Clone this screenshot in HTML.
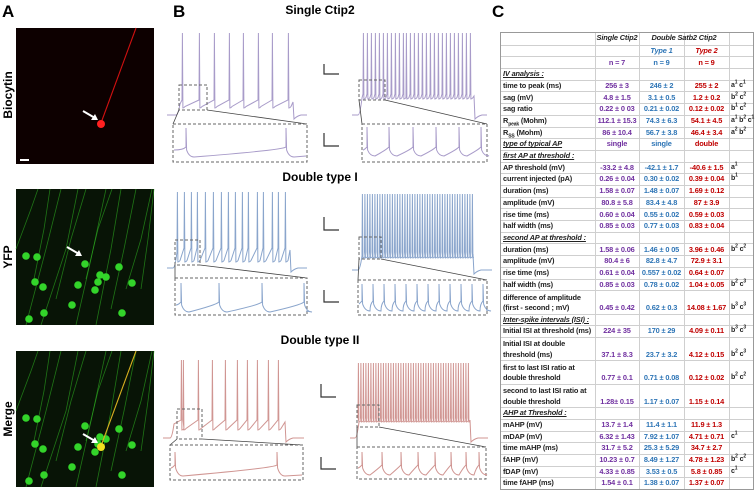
<!DOCTYPE html>
<html><head><meta charset="utf-8">
<style>
body{margin:0;width:756px;height:492px;background:#fff;position:relative;overflow:hidden;font-family:"Liberation Sans",sans-serif}
.pl{position:absolute;font-weight:bold;font-size:17px}
.ttl{position:absolute;font-weight:bold;font-size:12px;text-align:center;width:160px}
.rl{position:absolute;font-weight:bold;font-size:12px;transform:rotate(-90deg);transform-origin:center;white-space:nowrap}
#tbl{position:absolute;left:500px;top:32px;width:254px;height:458px;border:1px solid #999;box-sizing:border-box}
.row{position:absolute;left:0;width:252px;border-top:1px solid #cfcfcf;font-size:7.4px;font-weight:bold;color:#222;letter-spacing:-0.15px}
.c{position:absolute;bottom:1px;white-space:nowrap;line-height:10.5px}
.c sub,.c sup{font-size:5px;line-height:0}
.v{text-align:center}
.vl{position:absolute;top:0;bottom:0;border-left:1px solid #cfcfcf}
.pu{color:#7030a0}.bl{color:#2e75b6}.rd{color:#c00000}
</style></head><body>
<div class="pl" style="left:2px;top:2px">A</div>
<div class="pl" style="left:173px;top:2px">B</div>
<div class="pl" style="left:492px;top:2px">C</div>
<div class="rl" style="left:-17px;top:88px;width:50px;text-align:center">Biocytin</div>
<div class="rl" style="left:-17px;top:250px;width:50px;text-align:center">YFP</div>
<div class="rl" style="left:-17px;top:412px;width:50px;text-align:center">Merge</div>
<div class="ttl" style="left:240px;top:3px">Single Ctip2</div>
<div class="ttl" style="left:240px;top:170px">Double type I</div>
<div class="ttl" style="left:240px;top:333px">Double type II</div>
<svg id="sv" width="500" height="492" style="position:absolute;left:0;top:0"></svg>
<div id="tbl"></div>
<script>
const NS="http://www.w3.org/2000/svg";
const sv=document.getElementById('sv');
function mk(t,a,p){const e=document.createElementNS(NS,t);for(const k in a)e.setAttribute(k,a[k]);(p||sv).appendChild(e);return e;}
const cells=[[10,67],[21,68],[69,75],[19,93],[27,98],[62,96],[82,93],[90,88],[84,86],[103,78],[116,94],[56,116],[79,101],[13,130],[28,124],[106,124]];
const fibers=[[[10,136],[30,60],[45,0]],[[25,136],[50,60],[62,0]],[[60,136],[75,70],[90,0]],[[80,136],[95,60],[105,0]],[[95,120],[108,60],[120,0]],[[110,100],[125,50],[136,0]],[[125,100],[132,50],[138,0]],[[0,60],[15,20],[22,0]],[[40,110],[55,50],[70,0]],[[18,90],[28,40],[34,0]],[[70,90],[82,40],[96,0]]];
function micro(x,y,kind){
 const g=mk('g',{transform:`translate(${x},${y})`});
 
 
 mk('rect',{x:0,y:0,width:138,height:136,fill:kind==='biocytin'?'#0d0000':'#081406'},g);
 if(kind!=='biocytin'){
  fibers.forEach(f=>mk('polyline',{points:f.map(p=>p.join(',')).join(' '),fill:'none',stroke:'#2fb522','stroke-width':0.8,opacity:.6},g));
  cells.forEach(c=>mk('circle',{cx:c[0],cy:c[1],r:3.8,fill:'#33d42a'},g));
 }
 if(kind!=='yfp'){
  const col=kind==='biocytin'?'#d01010':'#d8b020';
  mk('line',{x1:85,y1:95,x2:120,y2:0,stroke:col,'stroke-width':1.1},g);
  mk('circle',{cx:85,cy:96,r:4,fill:kind==='biocytin'?'#ff2020':'#f0e020'},g);
 }
 const ay=kind==='biocytin'?93:(kind==='yfp'?68:93), ax=kind==='yfp'?69:85;
 mk('line',{x1:ax-18,y1:ay-10,x2:ax-6,y2:ay-3,stroke:'#fff','stroke-width':2},g);
 mk('polygon',{points:`${ax-3},${ay-1} ${ax-10},${ay-1} ${ax-6},${ay-7}`,fill:'#fff'},g);
 if(kind==='biocytin')mk('rect',{x:4,y:131,width:9,height:2,fill:'#fff'},g);
}
micro(16,28,'biocytin');micro(16,189,'yfp');micro(16,351,'merge');

const g1LeftSpikes=[182,199,214,229,243,258,272,288];
const g1RightSpikes=[363,367,371,375,379,383,387,391,395,399,403,406,410,414,418,422,426,430,434,438,442,446,450,454,458,462,466,470];
const g2LeftSpikes=[177,184,191,197,205,213,221,228,235,242,248,257,263,272,278,285];
const g2RightSpikes=[362,364.5,367,369.5,372,374.5,377,379.5,382,384.5,387,389.5,392,394.5,397,399.5,402,404.5,407,409.5,412,414.5,417,419.5,422,424.5,427,429.5,432,434.5,437,439.5,442,444.5,447,449.5,452,454.5,457,459.5,462,464.5,467,469.5,472];
const g3LeftSpikes=[181,183,198,212,225,237,247,257,268,278];
const g3RightSpikes=[358,360.5,363,365.5,368,370.5,373,375.5,378,380.5,383,385.5,388,390.5,393,395.5,398,400.5,403,405.5,408,410.5,413,415.5,418,420.5,423,425.5,428,430.5,433,435.5,438,440.5,443,445.5,448,450.5,453,455.5,458,460.5,463,465.5,468];
const g1LeftInset=[186,286], g1RightInset=[367,389,413,436,459,481];
const g2LeftInset=[181,219,262,304], g2RightInset=[362,373,384,395,406,417,428,439,450,461,472,483];
const g3LeftInset=[175,277], g3RightInset=[362,382,401,418,435,451,466,479];

function trace(name,col,x0,x1,s0,s1,base,top,thr,tr,spikes){
 let d=`M${x0},${base} L${s0-2},${base} Q${s0},${base} ${s0+2},${thr+4}`;
 spikes.forEach(sx=>{d+=` L${sx},${thr} L${sx+0.4},${top} L${sx+0.9},${tr} Q${sx+2},${tr} ${Math.min(sx+3,s1)},${tr-1.5}`;});
 d+=` L${s1},${thr+2} L${s1+1},${base+4} Q${s1+4},${base+1} ${s1+8},${base} L${x1},${base}`;
 const p=mk('path',{d,fill:'none',stroke:col,'stroke-width':1});
 
 
}
function inset(name,col,bx,by,bw,bh,top,base,trough,spikes){
 const r=mk('rect',{x:bx,y:by,width:bw,height:bh,fill:'none',stroke:'#666','stroke-dasharray':'3,2','stroke-width':1});
 
 
 let d=`M${bx+1},${base}`;
 spikes.forEach(sx=>{d+=` Q${sx-3},${base} ${sx},${base-3} L${sx},${top} L${sx+0.6},${base} Q${sx+3},${trough} ${sx+8},${trough}`;});
 d+=` L${bx+bw-1},${trough-1}`;
 const p=mk('path',{d,fill:'none',stroke:col,'stroke-width':1});
 
 
}
function zoombox(bx,by,bw,bh,ix,iy,iw){
 mk('rect',{x:bx,y:by,width:bw,height:bh,fill:'none',stroke:'#666','stroke-dasharray':'3,2','stroke-width':1});
 mk('line',{x1:bx,y1:by+bh,x2:ix,y2:iy,stroke:'#444','stroke-width':.8});
 mk('line',{x1:bx+bw,y1:by+bh,x2:ix+iw,y2:iy,stroke:'#444','stroke-width':.8});
}
function scalebar(x,y1,y2){
 const p=mk('path',{d:`M${x},${y1} L${x},${y2} L${x+15},${y2}`,fill:'none',stroke:'#333','stroke-width':1.2});
 
 
}
const P='#a89bc9',B='#8aa5cc',R='#d09592';
trace('single-threshold-trace',P,167,307,178,293,115,33,100,108,g1LeftSpikes);
trace('single-double-threshold-trace',P,352,487,360,474,115,33,94,99,g1RightSpikes);
zoombox(179,85,28,25,173,124,134);zoombox(359,80,26,20,362,124,125);
inset('single-left-inset',P,173,124,134,38,128,150,157,g1LeftInset);
inset('single-right-inset',P,362,124,125,38,127,150,156,g1RightInset);
scalebar(324,64,74);scalebar(324,133,146);
trace('type1-threshold-trace',B,167,307,175,290,268,192,248,262,g2LeftSpikes);
trace('type1-double-threshold-trace',B,352,492,360,473,270,194,252,258,g2RightSpikes);
zoombox(175,240,25,25,175,278,132);zoombox(359,237,22,22,358,280,129);
inset('type1-left-inset',B,175,278,132,37,283,305,312,g2LeftInset);
inset('type1-right-inset',B,358,280,129,35,284,304,311,g2RightInset);
scalebar(324,217,230);scalebar(324,290,302);
trace('type2-threshold-trace',R,163,304,172,285,438,360,420,430,g3LeftSpikes);
trace('type2-double-threshold-trace',R,350,488,357,470,438,363,418,422,g3RightSpikes);
zoombox(177,409,25,30,170,445,133);zoombox(357,405,22,22,357,447,129);
inset('type2-left-inset',R,170,445,133,35,452,468,476,g3LeftInset);
inset('type2-right-inset',R,357,447,129,32,452,468,475,g3RightInset);
scalebar(321,384,397);scalebar(321,457,469);

const tbl=document.getElementById('tbl');
const rows=[
 ['',"<i>Single Ctip2</i>","<i>Double Satb2 Ctip2</i>",'','',1,'h'],
 ['','',"<i class='bl'>Type 1</i>","<i class='rd'>Type 2</i>",'',1],
 ['',"<span class='pu'>n = 7</span>","<span class='bl'>n = 9</span>","<span class='rd'>n = 9</span>",'',1],
 ["<i><u>IV analysis :</u></i>",'','','','',1],
 ['time to peak (ms)','256 ± 3','246 ± 2','255 ± 2','a<sup>1</sup> c<sup>1</sup>',1],
 ['sag (mV)','4.8 ± 1.5','3.1 ± 0.5','1.2 ± 0.2','b<sup>2</sup> c<sup>2</sup>',1],
 ['sag ratio','0.22 ± 0 03','0.21 ± 0.02','0.12 ± 0.02','b<sup>1</sup> c<sup>2</sup>',1],
 ['R<sub>peak</sub> (Mohm)','112.1 ± 15.3','74.3 ± 6.3','54.1 ± 4.5','a<sup>1</sup> b<sup>2</sup> c<sup>1</sup>',1],
 ['R<sub>SS</sub> (Mohm)','86 ± 10.4','56.7 ± 3.8','46.4 ± 3.4','a<sup>2</sup> b<sup>2</sup>',1],
 ["<i><u>type of typical AP</u></i>",'single','single','double','',1],
 ["<i><u>first AP at threshold :</u></i>",'','','','',1],
 ['AP threshold (mV)','-33.2 ± 4.8','-42.1 ± 1.7','-40.6 ± 1.5','a<sup>1</sup>',1],
 ['current injected (pA)','0.26 ± 0.04','0.30 ± 0.02','0.39 ± 0.04','b<sup>1</sup>',1],
 ['duration (ms)','1.58 ± 0.07','1.48 ± 0.07','1.69 ± 0.12','',1],
 ['amplitude (mV)','80.8 ± 5.8','83.4 ± 4.8','87 ± 3.9','',1],
 ['rise time (ms)','0.60 ± 0.04','0.55 ± 0.02','0.59 ± 0.03','',1],
 ['half width (ms)','0.85 ± 0.03','0.77 ± 0.03','0.83 ± 0.04','',1],
 ["<i><u>second AP at threshold :</u></i>",'','','','',1],
 ['duration (ms)','1.58 ± 0.06','1.46 ± 0 05','3.96 ± 0.46','b<sup>2</sup> c<sup>2</sup>',1],
 ['amplitude (mV)','80.4 ± 6','82.8 ± 4.7','72.9 ± 3.1','',1],
 ['rise time (ms)','0.61 ± 0.04','0.557 ± 0.02','0.64 ± 0.07','',1],
 ['half width (ms)','0.85 ± 0.03','0.78 ± 0.02','1.04 ± 0.05','b<sup>2</sup> c<sup>3</sup>',1],
 ['difference of amplitude<br>(first - second ; mV)','0.45 ± 0.42','0.62 ± 0.3','14.08 ± 1.67','b<sup>3</sup> c<sup>3</sup>',2],
 ["<i><u>Inter-spike intervals (ISI) :</u></i>",'','','','',1],
 ['Initial ISI at threshold (ms)','224 ± 35','170 ± 29','4.09 ± 0.11','b<sup>3</sup> c<sup>3</sup>',1],
 ['Initial ISI at double<br>threshold (ms)','37.1 ± 8.3','23.7 ± 3.2','4.12 ± 0.15','b<sup>2</sup> c<sup>3</sup>',2],
 ['first to last ISI ratio at<br>double threshold','0.77 ± 0.1','0.71 ± 0.08','0.12 ± 0.02','b<sup>2</sup> c<sup>2</sup>',2],
 ['second to last ISI ratio at<br>double threshold','1.28± 0.15','1.17 ± 0.07','1.15 ± 0.14','',2],
 ["<i><u>AHP at Threshold :</u></i>",'','','','',1],
 ['mAHP (mV)','13.7 ± 1.4','11.4 ± 1.1','11.9 ± 1.3','',1],
 ['mDAP (mV)','6.32 ± 1.43','7.92 ± 1.07','4.71 ± 0.71','c<sup>1</sup>',1],
 ['time mAHP (ms)','31.7 ± 5.2','25.3 ± 5.29','34.7 ± 2.7','',1],
 ['fAHP (mV)','10.23 ± 0.7','8.49 ± 1.27','4.78 ± 1.23','b<sup>2</sup> c<sup>2</sup>',1],
 ['fDAP (mV)','4.33 ± 0.85','3.53 ± 0.5','5.8 ± 0.85','c<sup>1</sup>',1],
 ['time fAHP (ms)','1.54 ± 0.1','1.38 ± 0.07','1.37 ± 0.07','',1]
];
const units=rows.reduce((s,r)=>s+r[5],0);
const U=456/units;
let y=0;
[94,138,183,228].forEach(x=>{const v=document.createElement('div');v.className='vl';v.style.left=x+'px';
 
 
 tbl.appendChild(v);});
rows.forEach((r,i)=>{
 const h=r[5]*U;
 const d=document.createElement('div');d.className='row';d.style.top=y+'px';d.style.height=h+'px';
 if(i==0)d.style.borderTop='none';
 
 
 let html=`<div class="c" style="left:2px">${r[0]}</div>`;
 if(r[6]==='h'){html+=`<div class="c v" style="left:94px;width:44px">${r[1]}</div><div class="c v" style="left:138px;width:90px">${r[2]}</div>`;}
 else{
  html+=`<div class="c v pu" style="left:94px;width:44px">${r[1]}</div><div class="c v bl" style="left:138px;width:45px">${r[2]}</div><div class="c v rd" style="left:183px;width:45px">${r[3]}</div><div class="c" style="left:230px;font-size:7px">${r[4]}</div>`;
 }
 d.innerHTML=html;tbl.appendChild(d);y+=h;
});
</script>
</body></html>
